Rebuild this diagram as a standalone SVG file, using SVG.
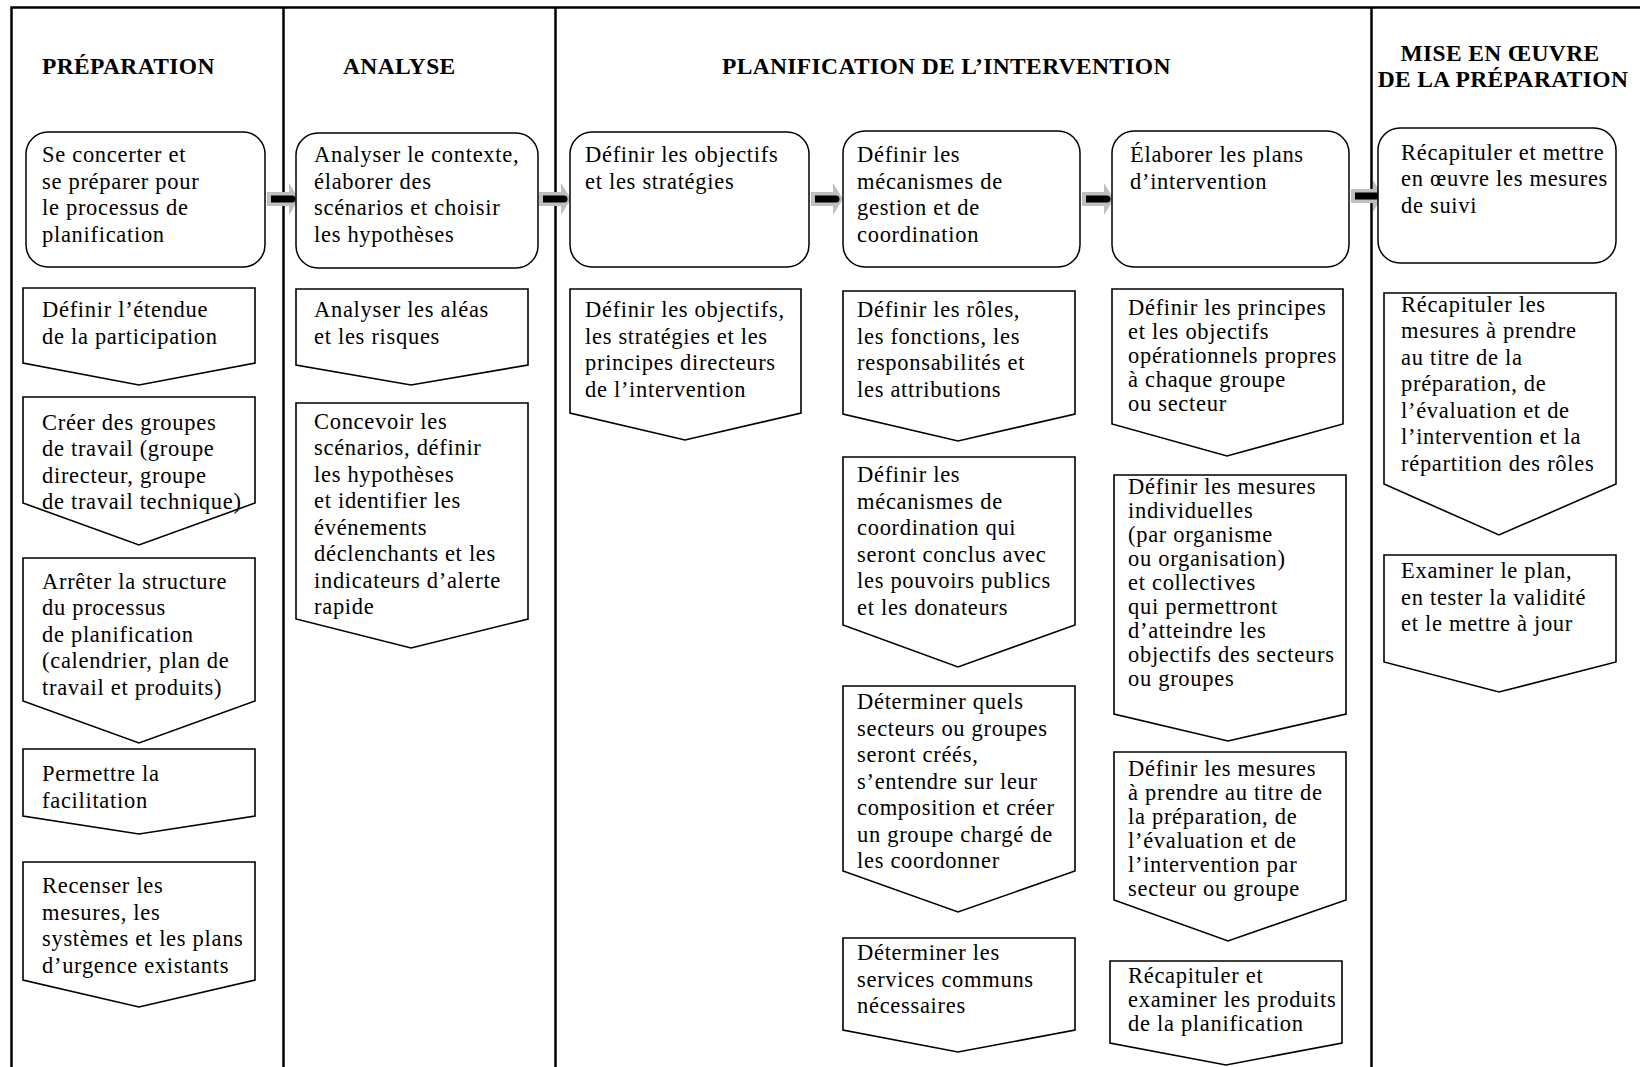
<svg xmlns="http://www.w3.org/2000/svg" xmlns:xlink="http://www.w3.org/1999/xlink" width="1640" height="1067" viewBox="0 0 1640 1067">
<style>
.frame{stroke:#000;stroke-width:2.5;fill:none}
.rb{fill:#fff;stroke:#000;stroke-width:1.5}
.ch{fill:#fff;stroke:#000;stroke-width:1.6;stroke-linejoin:miter}
.t{font-family:"Liberation Serif","Times New Roman",serif;font-size:22.5px;letter-spacing:0.7px;fill:#000}
.h{font-family:"Liberation Serif","Times New Roman",serif;font-size:23.5px;font-weight:bold;letter-spacing:0.35px;fill:#000}
</style>
<defs>
<g id="arr">
<path d="M0,-7 H22 V-16 L32,0 L22,16 V7 H0 Z" fill="#bfbfbf"/>
<path d="M4,-3.5 H25 A3.5,3.5 0 0 1 25,3.5 H4 Z" fill="#000"/>
</g>
</defs>
<rect width="1640" height="1067" fill="#fff"/>
<g id="frame">
<path class="frame" d="M11.5,1067 V7.5 H1640 M283.5,7.5 V1067 M555.5,7.5 V1067 M1371.5,7.5 V1067"/>
</g>
<g id="headers">
<text class="h" x="42" y="74">PRÉPARATION</text>
<text class="h" x="343" y="74">ANALYSE</text>
<text class="h" x="722" y="74">PLANIFICATION DE L’INTERVENTION</text>
<text class="h" x="1500" y="61" text-anchor="middle">MISE EN ŒUVRE</text>
<text class="h" x="1503" y="87" text-anchor="middle">DE LA PRÉPARATION</text>
</g>
<g id="connectors">
<use xlink:href="#arr" x="267" y="199"/>
<use xlink:href="#arr" x="539" y="199"/>
<use xlink:href="#arr" x="811" y="199"/>
<use xlink:href="#arr" x="1082" y="199"/>
<use xlink:href="#arr" x="1351" y="196"/>
</g>
<g id="step1">
<rect class="rb" x="26" y="132" width="239" height="135" rx="22"/>
<text class="t"><tspan x="42" y="162">Se concerter et</tspan><tspan x="42" y="188.5">se préparer pour</tspan><tspan x="42" y="215">le processus de</tspan><tspan x="42" y="241.5">planification</tspan></text>
</g>
<g id="step2">
<rect class="rb" x="296" y="133" width="242" height="135" rx="22"/>
<text class="t"><tspan x="314" y="162">Analyser le contexte,</tspan><tspan x="314" y="188.5">élaborer des</tspan><tspan x="314" y="215">scénarios et choisir</tspan><tspan x="314" y="241.5">les hypothèses</tspan></text>
</g>
<g id="step3">
<rect class="rb" x="570" y="132" width="239" height="135" rx="22"/>
<text class="t"><tspan x="585" y="162">Définir les objectifs</tspan><tspan x="585" y="188.5">et les stratégies</tspan></text>
</g>
<g id="step4">
<rect class="rb" x="843" y="131" width="237" height="136" rx="22"/>
<text class="t"><tspan x="857" y="162">Définir les</tspan><tspan x="857" y="188.5">mécanismes de</tspan><tspan x="857" y="215">gestion et de</tspan><tspan x="857" y="241.5">coordination</tspan></text>
</g>
<g id="step5">
<rect class="rb" x="1112" y="131" width="237" height="136" rx="22"/>
<text class="t"><tspan x="1130" y="162">Élaborer les plans</tspan><tspan x="1130" y="188.5">d’intervention</tspan></text>
</g>
<g id="step6">
<rect class="rb" x="1378" y="128" width="238" height="135" rx="22"/>
<text class="t"><tspan x="1401" y="159.5">Récapituler et mettre</tspan><tspan x="1401" y="186">en œuvre les mesures</tspan><tspan x="1401" y="212.5">de suivi</tspan></text>
</g>
<g id="p1">
<polygon class="ch" points="23,288 255,288 255,363 139,385 23,363"/>
<text class="t"><tspan x="42" y="317">Définir l’étendue</tspan><tspan x="42" y="343.5">de la participation</tspan></text>
</g>
<g id="p2">
<polygon class="ch" points="23,397 255,397 255,503 139,545 23,503"/>
<text class="t"><tspan x="42" y="429.5">Créer des groupes</tspan><tspan x="42" y="456">de travail (groupe</tspan><tspan x="42" y="482.5">directeur, groupe</tspan><tspan x="42" y="509">de travail technique)</tspan></text>
</g>
<g id="p3">
<polygon class="ch" points="23,558 255,558 255,701 139,743 23,701"/>
<text class="t"><tspan x="42" y="588.5">Arrêter la structure</tspan><tspan x="42" y="615">du processus</tspan><tspan x="42" y="641.5">de planification</tspan><tspan x="42" y="668">(calendrier, plan de</tspan><tspan x="42" y="694.5">travail et produits)</tspan></text>
</g>
<g id="p4">
<polygon class="ch" points="23,749 255,749 255,816 139,834 23,816"/>
<text class="t"><tspan x="42" y="781">Permettre la</tspan><tspan x="42" y="807.5">facilitation</tspan></text>
</g>
<g id="p5">
<polygon class="ch" points="23,862 255,862 255,980 139,1007 23,980"/>
<text class="t"><tspan x="42" y="893">Recenser les</tspan><tspan x="42" y="919.5">mesures, les</tspan><tspan x="42" y="946">systèmes et les plans</tspan><tspan x="42" y="972.5">d’urgence existants</tspan></text>
</g>
<g id="a1">
<polygon class="ch" points="296,289 528,289 528,365 411,385 296,365"/>
<text class="t"><tspan x="314" y="317">Analyser les aléas</tspan><tspan x="314" y="343.5">et les risques</tspan></text>
</g>
<g id="a2">
<polygon class="ch" points="296,403 528,403 528,619 411,648 296,619"/>
<text class="t"><tspan x="314" y="428.5">Concevoir les</tspan><tspan x="314" y="455">scénarios, définir</tspan><tspan x="314" y="481.5">les hypothèses</tspan><tspan x="314" y="508">et identifier les</tspan><tspan x="314" y="534.5">événements</tspan><tspan x="314" y="561">déclenchants et les</tspan><tspan x="314" y="587.5">indicateurs d’alerte</tspan><tspan x="314" y="614">rapide</tspan></text>
</g>
<g id="o1">
<polygon class="ch" points="570,289 801,289 801,413 685,440 570,413"/>
<text class="t"><tspan x="585" y="317">Définir les objectifs,</tspan><tspan x="585" y="343.5">les stratégies et les</tspan><tspan x="585" y="370">principes directeurs</tspan><tspan x="585" y="396.5">de l’intervention</tspan></text>
</g>
<g id="m1">
<polygon class="ch" points="843,291 1075,291 1075,414 958,441 843,414"/>
<text class="t"><tspan x="857" y="317">Définir les rôles,</tspan><tspan x="857" y="343.5">les fonctions, les</tspan><tspan x="857" y="370">responsabilités et</tspan><tspan x="857" y="396.5">les attributions</tspan></text>
</g>
<g id="m2">
<polygon class="ch" points="843,457 1075,457 1075,625 958,667 843,625"/>
<text class="t"><tspan x="857" y="482">Définir les</tspan><tspan x="857" y="508.5">mécanismes de</tspan><tspan x="857" y="535">coordination qui</tspan><tspan x="857" y="561.5">seront conclus avec</tspan><tspan x="857" y="588">les pouvoirs publics</tspan><tspan x="857" y="614.5">et les donateurs</tspan></text>
</g>
<g id="m3">
<polygon class="ch" points="843,686 1075,686 1075,871 958,912 843,871"/>
<text class="t"><tspan x="857" y="709">Déterminer quels</tspan><tspan x="857" y="735.5">secteurs ou groupes</tspan><tspan x="857" y="762">seront créés,</tspan><tspan x="857" y="788.5">s’entendre sur leur</tspan><tspan x="857" y="815">composition et créer</tspan><tspan x="857" y="841.5">un groupe chargé de</tspan><tspan x="857" y="868">les coordonner</tspan></text>
</g>
<g id="m4">
<polygon class="ch" points="843,938 1075,938 1075,1030 958,1052 843,1030"/>
<text class="t"><tspan x="857" y="960">Déterminer les</tspan><tspan x="857" y="986.5">services communs</tspan><tspan x="857" y="1013">nécessaires</tspan></text>
</g>
<g id="e1">
<polygon class="ch" points="1112,289 1343,289 1343,424 1227,456 1112,424"/>
<text class="t"><tspan x="1128" y="314.5">Définir les principes</tspan><tspan x="1128" y="338.5">et les objectifs</tspan><tspan x="1128" y="362.5">opérationnels propres</tspan><tspan x="1128" y="386.5">à chaque groupe</tspan><tspan x="1128" y="410.5">ou secteur</tspan></text>
</g>
<g id="e2">
<polygon class="ch" points="1114,475 1346,475 1346,714 1228,741 1114,714"/>
<text class="t"><tspan x="1128" y="493.5">Définir les mesures</tspan><tspan x="1128" y="517.5">individuelles</tspan><tspan x="1128" y="541.5">(par organisme</tspan><tspan x="1128" y="565.5">ou organisation)</tspan><tspan x="1128" y="589.5">et collectives</tspan><tspan x="1128" y="613.5">qui permettront</tspan><tspan x="1128" y="637.5">d’atteindre les</tspan><tspan x="1128" y="661.5">objectifs des secteurs</tspan><tspan x="1128" y="685.5">ou groupes</tspan></text>
</g>
<g id="e3">
<polygon class="ch" points="1114,752 1346,752 1346,900 1228,941 1114,900"/>
<text class="t"><tspan x="1128" y="776">Définir les mesures</tspan><tspan x="1128" y="800">à prendre au titre de</tspan><tspan x="1128" y="824">la préparation, de</tspan><tspan x="1128" y="848">l’évaluation et de</tspan><tspan x="1128" y="872">l’intervention par</tspan><tspan x="1128" y="896">secteur ou groupe</tspan></text>
</g>
<g id="e4">
<polygon class="ch" points="1110,961 1342,961 1342,1043 1226,1065 1110,1043"/>
<text class="t"><tspan x="1128" y="983">Récapituler et</tspan><tspan x="1128" y="1007">examiner les produits</tspan><tspan x="1128" y="1031">de la planification</tspan></text>
</g>
<g id="r1">
<polygon class="ch" points="1384,293 1616,293 1616,484 1499,535 1384,484"/>
<text class="t"><tspan x="1401" y="311.5">Récapituler les</tspan><tspan x="1401" y="338">mesures à prendre</tspan><tspan x="1401" y="364.5">au titre de la</tspan><tspan x="1401" y="391">préparation, de</tspan><tspan x="1401" y="417.5">l’évaluation et de</tspan><tspan x="1401" y="444">l’intervention et la</tspan><tspan x="1401" y="470.5">répartition des rôles</tspan></text>
</g>
<g id="r2">
<polygon class="ch" points="1384,555 1616,555 1616,662 1499,692 1384,662"/>
<text class="t"><tspan x="1401" y="578">Examiner le plan,</tspan><tspan x="1401" y="604.5">en tester la validité</tspan><tspan x="1401" y="631">et le mettre à jour</tspan></text>
</g>
</svg>
